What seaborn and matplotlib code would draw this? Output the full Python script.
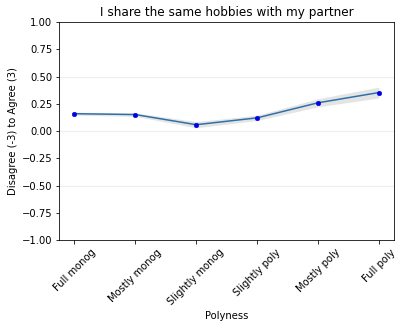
import matplotlib
matplotlib.use("Agg")
import matplotlib.pyplot as plt
import seaborn as sns
import pandas as pd

categories = ["Full monog", "Mostly monog", "Slightly monog", "Slightly poly", "Mostly poly", "Full poly"]
means = [0.159, 0.151, 0.058, 0.121, 0.259, 0.353]
lower = [0.145, 0.135, 0.030, 0.097, 0.222, 0.303]
upper = [0.173, 0.167, 0.086, 0.145, 0.296, 0.403]
yticks = [-1.0, -0.75, -0.5, -0.25, 0.0, 0.25, 0.5, 0.75, 1.0]

df = pd.DataFrame({"Polyness": categories, "mean": means, "lo": lower, "hi": upper})
df["x"] = range(len(categories))

fig, ax = plt.subplots(figsize=(403/72, 328/72), dpi=72)
for y in [0.5, 0.0, -0.5]:
    ax.axhline(y, color="#f0f0f0", lw=1.2, zorder=0)
ax.fill_between(df["x"], df["lo"], df["hi"], color="#d9d9d9", alpha=0.7, lw=0, zorder=1)
sns.lineplot(data=df, x="x", y="mean", ax=ax, color="#2f6fa8", lw=1.5, zorder=2)
sns.scatterplot(data=df, x="x", y="mean", ax=ax, color="#0000e6", s=22, edgecolor="#0000e6", zorder=3)
ax.set_xticks(df["x"])
ax.set_xticklabels(categories, rotation=45)
ax.set_ylim(-1, 1)
ax.set_yticks(yticks)
ax.set_xlim(-0.25, 5.25)
ax.set_xlabel("Polyness")
ax.set_ylabel("Disagree (-3) to Agree (3)")
ax.set_title("I share the same hobbies with my partner")
fig.subplots_adjust(left=0.147, right=0.978, top=0.933, bottom=0.268)
fig.savefig("out.png", dpi=72)
